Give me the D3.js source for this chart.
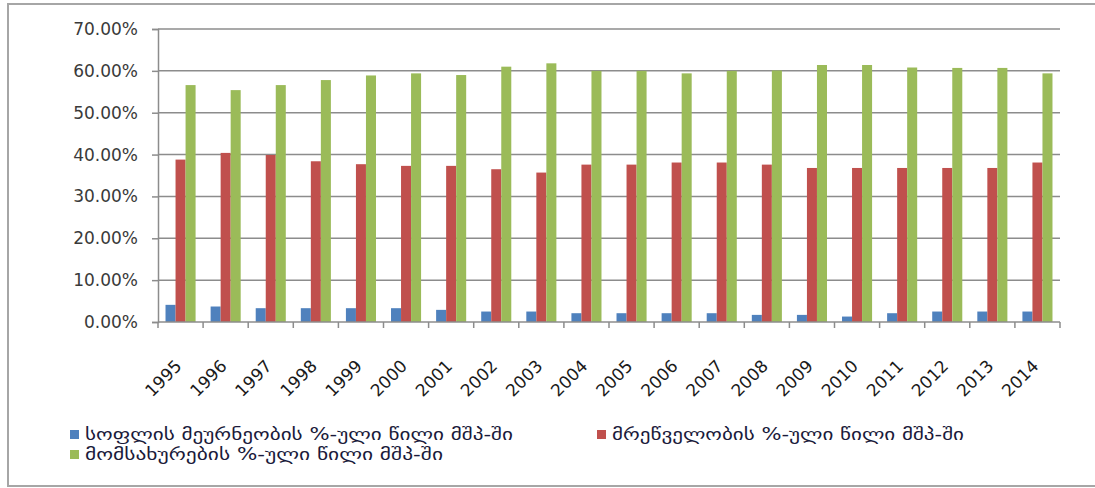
<!DOCTYPE html>
<html>
<head>
<meta charset="utf-8">
<script src="https://cdn.jsdelivr.net/npm/d3@7"></script>
<style>
  body { margin: 0; background: #fff; }
  svg { display: block; }
</style>
</head>
<body>
<div id="bar-chart"></div>
<script>
const years = ['1995','1996','1997','1998','1999','2000','2001','2002','2003','2004',
               '2005','2006','2007','2008','2009','2010','2011','2012','2013','2014'];

const agriculture = [4.1, 3.7, 3.3, 3.3, 3.3, 3.3, 2.9, 2.5, 2.5, 2.1,
                     2.1, 2.1, 2.1, 1.7, 1.7, 1.3, 2.1, 2.5, 2.5, 2.5];
const industry    = [38.8, 40.4, 39.9, 38.4, 37.7, 37.3, 37.3, 36.5, 35.7, 37.6,
                     37.6, 38.1, 38.1, 37.6, 36.8, 36.8, 36.8, 36.8, 36.8, 38.1];
const services    = [56.6, 55.4, 56.6, 57.8, 58.9, 59.4, 59.0, 61.0, 61.8, 60.0,
                     60.0, 59.4, 60.0, 60.1, 61.4, 61.4, 60.8, 60.7, 60.7, 59.4];

const seriesNames = ['სოფლის მეურნეობის %-ული წილი მშპ-ში',
                     'მრეწველობის %-ული წილი მშპ-ში',
                     'მომსახურების %-ული წილი მშპ-ში'];
const seriesColors = ['#4f81bd', '#c0504d', '#9bbb59'];
const yTicks = [0, 10, 20, 30, 40, 50, 60, 70];

const svgWidth = 1095, svgHeight = 488;
const margin = {top: 29, right: 35, bottom: 166, left: 158};
const innerWidth = svgWidth - margin.left - margin.right;
const innerHeight = svgHeight - margin.top - margin.bottom;

const allSeries = [agriculture, industry, services];

const svg = d3.select('#bar-chart').append('svg')
    .attr('width', svgWidth)
    .attr('height', svgHeight);

// outer frame (right side runs off the picture)
svg.append('path')
    .attr('d', `M${svgWidth},4 H8 V486 H${svgWidth}`)
    .attr('fill', 'none')
    .attr('stroke', '#a6a6a6')
    .attr('stroke-width', 2);

const g = svg.append('g').attr('transform', `translate(${margin.left},${margin.top})`);

const xScale = d3.scaleBand().domain(years).range([0, innerWidth]);
const xInner = d3.scaleBand().domain([0, 1, 2])
    .range([0, xScale.bandwidth()])
    .paddingOuter(0.75);
const yScale = d3.scaleLinear().domain([0, 70]).range([innerHeight, 0]);

// gridlines
g.append('g').selectAll('line')
    .data(yTicks.slice(1))
    .enter().append('line')
    .attr('x1', 0).attr('x2', innerWidth)
    .attr('y1', d => yScale(d)).attr('y2', d => yScale(d))
    .attr('stroke', '#8c8c8c')
    .attr('stroke-width', 1.5);

// y axis
const yAxis = d3.axisLeft(yScale).tickValues(yTicks).tickSize(6).tickPadding(14)
    .tickFormat(d => d.toFixed(2) + '%');
const yAxisGroup = g.append('g').call(yAxis);
yAxisGroup.select('.domain').attr('stroke', '#8c8c8c').attr('stroke-width', 1.5);
yAxisGroup.selectAll('.tick line').attr('stroke', '#8c8c8c').attr('stroke-width', 1.5);
yAxisGroup.selectAll('text')
    .attr('fill', '#3a3a3a')
    .style('font-family', '"DejaVu Sans", Verdana, sans-serif')
    .style('font-size', '17px');

// bars
allSeries.forEach(function(values, s) {
    g.append('g').selectAll('rect')
        .data(values)
        .enter().append('rect')
        .attr('x', (d, i) => xScale(years[i]) + xInner(s))
        .attr('y', d => yScale(d))
        .attr('width', xInner.bandwidth())
        .attr('height', d => innerHeight - yScale(d))
        .attr('fill', seriesColors[s]);
});

// x axis
const xAxisGroup = g.append('g').attr('transform', `translate(0,${innerHeight})`);
xAxisGroup.append('line')
    .attr('x1', 0).attr('x2', innerWidth)
    .attr('stroke', '#8c8c8c').attr('stroke-width', 1.5);
xAxisGroup.selectAll('.xtick')
    .data(years.concat(['end']))
    .enter().append('line')
    .attr('x1', (d, i) => i * xScale.step())
    .attr('x2', (d, i) => i * xScale.step())
    .attr('y1', 0).attr('y2', 6)
    .attr('stroke', '#8c8c8c').attr('stroke-width', 1.5);
xAxisGroup.selectAll('text')
    .data(years)
    .enter().append('text')
    .attr('transform', d => `translate(${xScale(d) + xScale.bandwidth() / 2 - 2},${41}) rotate(-45)`)
    .attr('text-anchor', 'end')
    .attr('dy', '0.35em')
    .attr('fill', '#1a1a1a')
    .style('font-family', '"DejaVu Sans", Verdana, sans-serif')
    .style('font-size', '17px')
    .text(d => d);

// legend
const legendItems = [
    {x: 70, y: 434, s: 0, len: 428},
    {x: 597, y: 434, s: 1, len: 352},
    {x: 70, y: 454, s: 2, len: 358}
];
const legend = svg.append('g');
legendItems.forEach(function(item) {
    legend.append('rect')
        .attr('x', item.x).attr('y', item.y - 4)
        .attr('width', 9).attr('height', 9)
        .attr('fill', seriesColors[item.s]);
    legend.append('text')
        .attr('x', item.x + 15).attr('y', item.y)
        .attr('dy', '0.35em')
        .attr('textLength', item.len)
        .attr('lengthAdjust', 'spacingAndGlyphs')
        .attr('fill', '#1a1a3a')
        .style('font-family', '"DejaVu Sans", sans-serif')
        .style('font-size', '17px')
        .text(seriesNames[item.s]);
});
</script>
</body>
</html>
